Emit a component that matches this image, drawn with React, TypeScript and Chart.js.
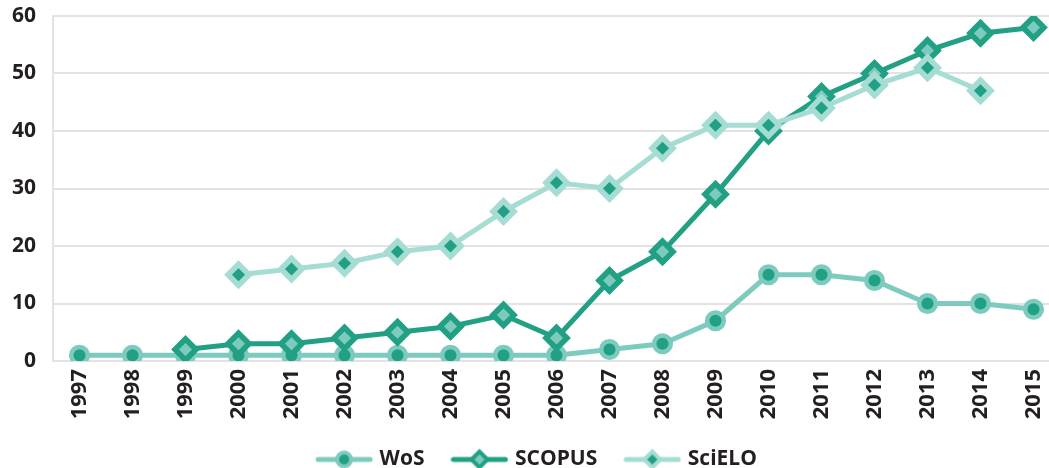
import React, { useEffect, useRef } from 'react';
import { Chart, registerables } from 'chart.js';

Chart.register(...registerables);

const years = ['1997', '1998', '1999', '2000', '2001', '2002', '2003', '2004', '2005', '2006', '2007', '2008', '2009', '2010', '2011', '2012', '2013', '2014', '2015'];
const wos = [1, 1, 1, 1, 1, 1, 1, 1, 1, 1, 2, 3, 7, 15, 15, 14, 10, 10, 9];
const scopus = [null, null, 2, 3, 3, 4, 5, 6, 8, 4, 14, 19, 29, 40, 46, 50, 54, 57, 58];
const scielo = [null, null, null, 15, 16, 17, 19, 20, 26, 31, 30, 37, 41, 41, 44, 48, 51, 47, null];
const seriesNames = ['WoS', 'SCOPUS', 'SciELO'];
const yMin = 0;
const yMax = 60;
const yStep = 10;

const DARK = '#21A084';
const WOS_LIGHT = '#7DCBBE';
const SCIELO_LIGHT = '#A5DCD3';
const GRID = '#E3E3E3';
const TEXT = '#231F20';
const FONT = "'Open Sans', sans-serif";

function legendImage(line: string, fill: string, border: string, style: 'circle' | 'diamond') {
  const c = document.createElement('canvas');
  c.width = 58;
  c.height = 26;
  const ctx = c.getContext('2d')!;
  const cx = 29, cy = 13;
  ctx.strokeStyle = line;
  ctx.lineWidth = 5;
  ctx.lineCap = 'round';
  ctx.beginPath();
  ctx.moveTo(3, cy);
  ctx.lineTo(55, cy);
  ctx.stroke();
  ctx.fillStyle = fill;
  ctx.strokeStyle = border;
  ctx.lineWidth = 4;
  ctx.beginPath();
  if (style === 'circle') {
    ctx.arc(cx, cy, 7, 0, Math.PI * 2);
  } else {
    const r = 8;
    ctx.moveTo(cx - r, cy);
    ctx.lineTo(cx, cy - r);
    ctx.lineTo(cx + r, cy);
    ctx.lineTo(cx, cy + r);
    ctx.closePath();
  }
  ctx.fill();
  ctx.stroke();
  return c;
}

export default function App() {
  const ref = useRef<HTMLCanvasElement>(null);
  useEffect(() => {
    if (!ref.current) return;
    const imgs = [
      legendImage(WOS_LIGHT, DARK, WOS_LIGHT, 'circle'),
      legendImage(DARK, WOS_LIGHT, DARK, 'diamond'),
      legendImage(SCIELO_LIGHT, DARK, SCIELO_LIGHT, 'diamond'),
    ];
    const chart = new Chart(ref.current, {
      type: 'line',
      data: {
        labels: years,
        datasets: [
          {
            label: seriesNames[0],
            data: wos,
            borderColor: WOS_LIGHT,
            borderWidth: 5,
            pointStyle: 'circle',
            pointRadius: 8.3,
            pointBorderWidth: 4.5,
            pointBackgroundColor: DARK,
            pointBorderColor: WOS_LIGHT,
            order: 3,
          },
          {
            label: seriesNames[1],
            data: scopus,
            borderColor: DARK,
            borderWidth: 5,
            pointStyle: 'rectRot',
            pointRadius: 10.5,
            pointBorderWidth: 5.5,
            pointBackgroundColor: WOS_LIGHT,
            pointBorderColor: DARK,
            order: 2,
          },
          {
            label: seriesNames[2],
            data: scielo,
            borderColor: SCIELO_LIGHT,
            borderWidth: 5,
            pointStyle: 'rectRot',
            pointRadius: 10.5,
            pointBorderWidth: 5.5,
            pointBackgroundColor: DARK,
            pointBorderColor: SCIELO_LIGHT,
            order: 1,
          },
        ],
      },
      options: {
        animation: false,
        responsive: false,
        maintainAspectRatio: false,
        spanGaps: false,
        layout: { padding: { top: 16, right: 0, left: 0, bottom: 0 } },
        plugins: {
          tooltip: { enabled: false },
          legend: {
            position: 'bottom',
            labels: {
              usePointStyle: true,
              pointStyleWidth: 50,
              padding: 30,
              color: TEXT,
              font: { family: FONT, size: 21, weight: 'bold' },
              generateLabels: (ch: any) =>
                ch.data.datasets.map((ds: any, i: number) => ({
                  text: ds.label,
                  pointStyle: imgs[i],
                  fillStyle: 'transparent',
                  strokeStyle: 'transparent',
                  lineWidth: 0,
                  hidden: false,
                  datasetIndex: i,
                  fontColor: TEXT,
                })),
            },
          },
        },
        scales: {
          x: {
            offset: true,
            grid: { display: false, drawTicks: false },
            border: { color: GRID, width: 2 },
            ticks: {
              autoSkip: false,
              minRotation: 90,
              maxRotation: 90,
              padding: 8,
              color: TEXT,
              font: { family: FONT, size: 22, weight: 'bold' },
            },
            afterFit: (s: any) => {
              s.height = 58;
            },
          },
          y: {
            min: yMin,
            max: yMax,
            ticks: {
              stepSize: yStep,
              padding: 17,
              color: TEXT,
              font: { family: FONT, size: 21, weight: 'bold' },
            },
            grid: { color: GRID, lineWidth: 2, drawTicks: false },
            border: { color: GRID, width: 2 },
            afterFit: (s: any) => {
              s.width = 53;
              s.paddingTop = 0;
              s.paddingBottom = 0;
            },
          },
        },
      },
    });
    return () => chart.destroy();
  }, []);
  return (
    <div style={{ position: 'fixed', left: 0, top: 0, width: 1049, height: 468, overflow: 'hidden', background: '#fff' }}>
      <canvas ref={ref} width={1076} height={480} style={{ display: 'block', width: 1076, height: 480 }} />
    </div>
  );
}
